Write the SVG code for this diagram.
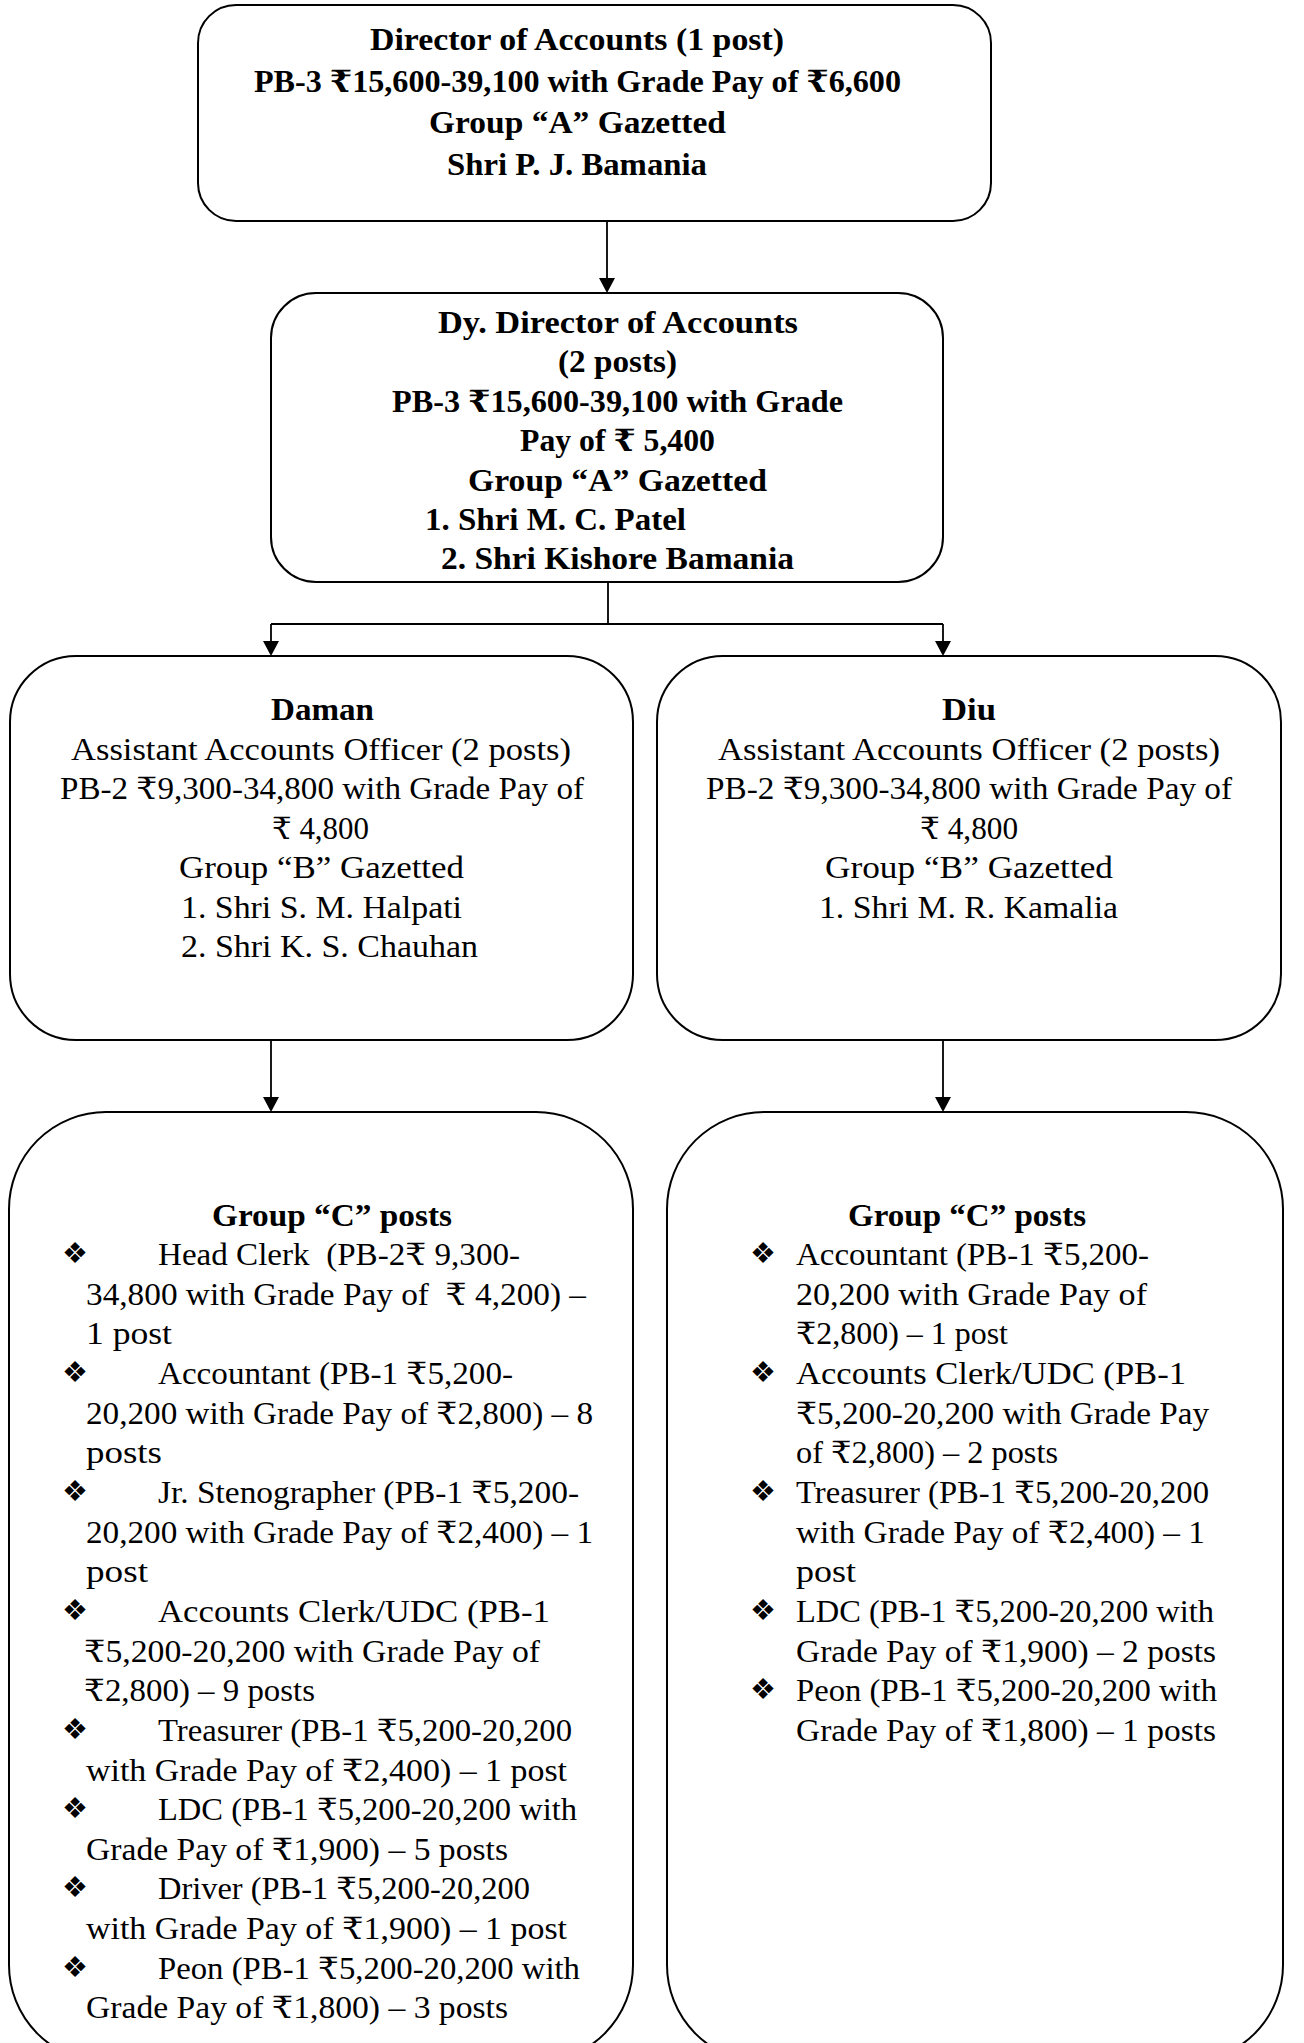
<svg xmlns="http://www.w3.org/2000/svg" width="1304" height="2043" viewBox="0 0 1304 2043">
<style>
  .box { fill: #ffffff; stroke: #000000; stroke-width: 2; }
  .con { fill: none; stroke: #000000; stroke-width: 1.8; }
  .t { font-family: "Liberation Serif", "DejaVu Serif", serif; font-size: 30.5px; fill: #000000; }
  .b { font-weight: bold; }
  .bul { font-family: "DejaVu Sans", sans-serif; font-size: 29px; fill: #000000; }
</style>
<defs>
  <marker id="arrow" viewBox="0 0 15 16" refX="12" refY="8" markerWidth="15" markerHeight="16" markerUnits="userSpaceOnUse" orient="auto">
    <path d="M0,0 L15,8 L0,16 Z" fill="#000000"/>
  </marker>
</defs>
<rect width="1304" height="2043" fill="#ffffff"/>

<g id="connectors">
  <path class="con" d="M607,221 V290" marker-end="url(#arrow)"/>
  <path class="con" d="M608,582 V624 M271,624 H943"/>
  <path class="con" d="M271,624 V653" marker-end="url(#arrow)"/>
  <path class="con" d="M943,624 V653" marker-end="url(#arrow)"/>
  <path class="con" d="M271,1040 V1109" marker-end="url(#arrow)"/>
  <path class="con" d="M943,1040 V1109" marker-end="url(#arrow)"/>
</g>

<g id="node-director">
  <rect class="box" x="198" y="5" width="793" height="216" rx="38" ry="38"/>
  <text class="t b" x="370" y="50" textLength="414" lengthAdjust="spacingAndGlyphs">Director of Accounts (1 post)</text>
  <text class="t b" x="254" y="92" textLength="647" lengthAdjust="spacingAndGlyphs">PB-3 ₹15,600-39,100 with Grade Pay of ₹6,600</text>
  <text class="t b" x="429" y="133" textLength="297" lengthAdjust="spacingAndGlyphs">Group “A” Gazetted</text>
  <text class="t b" x="447" y="175" textLength="260" lengthAdjust="spacingAndGlyphs">Shri P. J. Bamania</text>
</g>

<g id="node-dy-director">
  <rect class="box" x="271" y="293" width="672" height="289" rx="45" ry="45"/>
  <text class="t b" x="438" y="333" textLength="360" lengthAdjust="spacingAndGlyphs">Dy. Director of Accounts</text>
  <text class="t b" x="558" y="372" textLength="119" lengthAdjust="spacingAndGlyphs">(2 posts)</text>
  <text class="t b" x="392" y="412" textLength="451" lengthAdjust="spacingAndGlyphs">PB-3 ₹15,600-39,100 with Grade</text>
  <text class="t b" x="520" y="451" textLength="195" lengthAdjust="spacingAndGlyphs">Pay of ₹ 5,400</text>
  <text class="t b" x="468" y="491" textLength="299" lengthAdjust="spacingAndGlyphs">Group “A” Gazetted</text>
  <text class="t b" x="425" y="530" textLength="261" lengthAdjust="spacingAndGlyphs">1. Shri M. C. Patel</text>
  <text class="t b" x="441" y="569" textLength="353" lengthAdjust="spacingAndGlyphs">2. Shri Kishore Bamania</text>
</g>

<g id="node-daman">
  <rect class="box" x="10" y="656" width="623" height="384" rx="66" ry="66"/>
  <text class="t b" x="271" y="720" textLength="103" lengthAdjust="spacingAndGlyphs">Daman</text>
  <text class="t" x="71" y="759.5" textLength="500" lengthAdjust="spacingAndGlyphs">Assistant Accounts Officer (2 posts)</text>
  <text class="t" x="60" y="799" textLength="524" lengthAdjust="spacingAndGlyphs">PB-2 ₹9,300-34,800 with Grade Pay of</text>
  <text class="t" x="272" y="838.5" textLength="97" lengthAdjust="spacingAndGlyphs">₹ 4,800</text>
  <text class="t" x="179" y="878" textLength="285" lengthAdjust="spacingAndGlyphs">Group “B” Gazetted</text>
  <text class="t" x="181" y="917.5" textLength="281" lengthAdjust="spacingAndGlyphs">1. Shri S. M. Halpati</text>
  <text class="t" x="181" y="957" textLength="297" lengthAdjust="spacingAndGlyphs">2. Shri K. S. Chauhan</text>
</g>

<g id="node-diu">
  <rect class="box" x="657" y="656" width="624" height="384" rx="66" ry="66"/>
  <text class="t b" x="942" y="720" textLength="54" lengthAdjust="spacingAndGlyphs">Diu</text>
  <text class="t" x="718" y="759.5" textLength="502" lengthAdjust="spacingAndGlyphs">Assistant Accounts Officer (2 posts)</text>
  <text class="t" x="706" y="799" textLength="526" lengthAdjust="spacingAndGlyphs">PB-2 ₹9,300-34,800 with Grade Pay of</text>
  <text class="t" x="920" y="838.5" textLength="98" lengthAdjust="spacingAndGlyphs">₹ 4,800</text>
  <text class="t" x="825" y="878" textLength="288" lengthAdjust="spacingAndGlyphs">Group “B” Gazetted</text>
  <text class="t" x="819" y="917.5" textLength="299" lengthAdjust="spacingAndGlyphs">1. Shri M. R. Kamalia</text>
</g>

<g id="node-daman-group-c">
  <rect class="box" x="9" y="1112" width="624" height="950" rx="97" ry="97"/>
  <text class="t b" x="212" y="1226" textLength="240" lengthAdjust="spacingAndGlyphs">Group “C” posts</text>
  <text class="bul" x="62" y="1263">❖</text>
  <text class="bul" x="62" y="1382">❖</text>
  <text class="bul" x="62" y="1501">❖</text>
  <text class="bul" x="62" y="1620">❖</text>
  <text class="bul" x="62" y="1739">❖</text>
  <text class="bul" x="62" y="1818">❖</text>
  <text class="bul" x="62" y="1897">❖</text>
  <text class="bul" x="62" y="1977">❖</text>
  <text class="t" xml:space="preserve" x="158" y="1265" textLength="362" lengthAdjust="spacingAndGlyphs">Head Clerk  (PB-2₹ 9,300-</text>
  <text class="t" xml:space="preserve" x="86" y="1304.7" textLength="500" lengthAdjust="spacingAndGlyphs">34,800 with Grade Pay of  ₹ 4,200) –</text>
  <text class="t" x="86" y="1344.3" textLength="86" lengthAdjust="spacingAndGlyphs">1 post</text>
  <text class="t" x="158" y="1384" textLength="355" lengthAdjust="spacingAndGlyphs">Accountant (PB-1 ₹5,200-</text>
  <text class="t" x="86" y="1423.6" textLength="507" lengthAdjust="spacingAndGlyphs">20,200 with Grade Pay of ₹2,800) – 8</text>
  <text class="t" x="86" y="1463.3" textLength="76" lengthAdjust="spacingAndGlyphs">posts</text>
  <text class="t" x="158" y="1502.9" textLength="421" lengthAdjust="spacingAndGlyphs">Jr. Stenographer (PB-1 ₹5,200-</text>
  <text class="t" x="86" y="1542.6" textLength="507" lengthAdjust="spacingAndGlyphs">20,200 with Grade Pay of ₹2,400) – 1</text>
  <text class="t" x="86" y="1582.2" textLength="62" lengthAdjust="spacingAndGlyphs">post</text>
  <text class="t" x="158" y="1621.9" textLength="392" lengthAdjust="spacingAndGlyphs">Accounts Clerk/UDC (PB-1</text>
  <text class="t" x="84" y="1661.5" textLength="456" lengthAdjust="spacingAndGlyphs">₹5,200-20,200 with Grade Pay of</text>
  <text class="t" x="84" y="1701.2" textLength="231" lengthAdjust="spacingAndGlyphs">₹2,800) – 9 posts</text>
  <text class="t" x="158" y="1740.8" textLength="414" lengthAdjust="spacingAndGlyphs">Treasurer (PB-1 ₹5,200-20,200</text>
  <text class="t" x="86" y="1780.5" textLength="481" lengthAdjust="spacingAndGlyphs">with Grade Pay of ₹2,400) – 1 post</text>
  <text class="t" x="158" y="1820.1" textLength="419" lengthAdjust="spacingAndGlyphs">LDC (PB-1 ₹5,200-20,200 with</text>
  <text class="t" x="86" y="1859.8" textLength="422" lengthAdjust="spacingAndGlyphs">Grade Pay of ₹1,900) – 5 posts</text>
  <text class="t" x="158" y="1899.4" textLength="372" lengthAdjust="spacingAndGlyphs">Driver (PB-1 ₹5,200-20,200</text>
  <text class="t" x="86" y="1939.1" textLength="481" lengthAdjust="spacingAndGlyphs">with Grade Pay of ₹1,900) – 1 post</text>
  <text class="t" x="158" y="1978.7" textLength="422" lengthAdjust="spacingAndGlyphs">Peon (PB-1 ₹5,200-20,200 with</text>
  <text class="t" x="86" y="2018.4" textLength="422" lengthAdjust="spacingAndGlyphs">Grade Pay of ₹1,800) – 3 posts</text>
</g>

<g id="node-diu-group-c">
  <rect class="box" x="667" y="1112" width="616" height="950" rx="97" ry="97"/>
  <text class="t b" x="848" y="1226" textLength="238" lengthAdjust="spacingAndGlyphs">Group “C” posts</text>
  <text class="bul" x="750" y="1263">❖</text>
  <text class="bul" x="750" y="1382">❖</text>
  <text class="bul" x="750" y="1501">❖</text>
  <text class="bul" x="750" y="1620">❖</text>
  <text class="bul" x="750" y="1699">❖</text>
  <text class="t" x="796" y="1265" textLength="353" lengthAdjust="spacingAndGlyphs">Accountant (PB-1 ₹5,200-</text>
  <text class="t" x="796" y="1304.7" textLength="351" lengthAdjust="spacingAndGlyphs">20,200 with Grade Pay of</text>
  <text class="t" x="796" y="1344.3" textLength="212" lengthAdjust="spacingAndGlyphs">₹2,800) – 1 post</text>
  <text class="t" x="796" y="1384" textLength="390" lengthAdjust="spacingAndGlyphs">Accounts Clerk/UDC (PB-1</text>
  <text class="t" x="796" y="1423.6" textLength="413" lengthAdjust="spacingAndGlyphs">₹5,200-20,200 with Grade Pay</text>
  <text class="t" x="796" y="1463.3" textLength="262" lengthAdjust="spacingAndGlyphs">of ₹2,800) – 2 posts</text>
  <text class="t" x="796" y="1502.9" textLength="413" lengthAdjust="spacingAndGlyphs">Treasurer (PB-1 ₹5,200-20,200</text>
  <text class="t" x="796" y="1542.6" textLength="409" lengthAdjust="spacingAndGlyphs">with Grade Pay of ₹2,400) – 1</text>
  <text class="t" x="796" y="1582.2" textLength="60" lengthAdjust="spacingAndGlyphs">post</text>
  <text class="t" x="796" y="1621.9" textLength="418" lengthAdjust="spacingAndGlyphs">LDC (PB-1 ₹5,200-20,200 with</text>
  <text class="t" x="796" y="1661.5" textLength="420" lengthAdjust="spacingAndGlyphs">Grade Pay of ₹1,900) – 2 posts</text>
  <text class="t" x="796" y="1701.2" textLength="421" lengthAdjust="spacingAndGlyphs">Peon (PB-1 ₹5,200-20,200 with</text>
  <text class="t" x="796" y="1740.8" textLength="420" lengthAdjust="spacingAndGlyphs">Grade Pay of ₹1,800) – 1 posts</text>
</g>
</svg>
